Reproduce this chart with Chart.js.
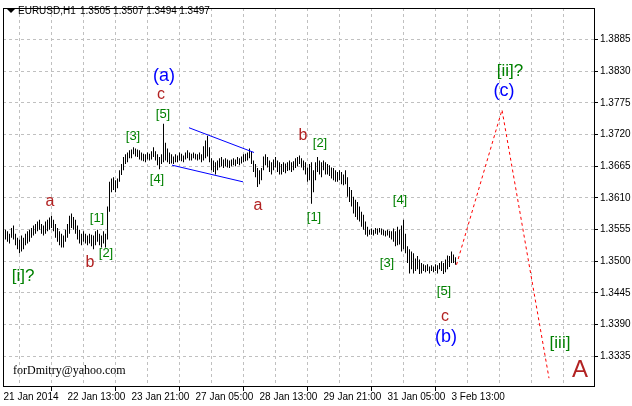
<!DOCTYPE html>
<html>
<head>
<meta charset="utf-8">
<script src="https://cdn.jsdelivr.net/npm/chart.js@4.4.0/dist/chart.umd.min.js"></script>
<style>
html, body { margin: 0; padding: 0; background: #fff; }
</style>
</head>
<body>
<canvas id="grafico" width="632" height="406"></canvas>
<script>
// EURUSD H1 - barras con marcado de ondas

// ---------------- datos ----------------
const timeLabels = ['21 Jan 2014', '22 Jan 13:00', '23 Jan 21:00', '27 Jan 05:00',
                    '28 Jan 13:00', '29 Jan 21:00', '31 Jan 05:00', '3 Feb 13:00'];

const priceTicks = [1.3335, 1.3390, 1.3445, 1.3500, 1.3555, 1.3610,
                    1.3665, 1.3720, 1.3775, 1.3830, 1.3885];

const barHigh = [
  1.3555, 1.3552, 1.3548, 1.3558, 1.3562, 1.3548, 1.3541, 1.3538, 1.3545, 1.3541,
  1.3548, 1.3552, 1.3555, 1.3558, 1.3562, 1.3565, 1.3569, 1.3572, 1.3565, 1.3562,
  1.3569, 1.3572, 1.3576, 1.3579, 1.3572, 1.3565, 1.3558, 1.3552, 1.3548, 1.3545,
  1.3555, 1.3565, 1.3579, 1.3583, 1.3577, 1.3572, 1.3562, 1.3555, 1.3548, 1.3552,
  1.3548, 1.3545, 1.3548, 1.3546, 1.3545, 1.3552, 1.3555, 1.3548, 1.3545, 1.3552,
  1.3548, 1.3595, 1.3638, 1.3644, 1.3646, 1.3641, 1.3644, 1.3658, 1.3669, 1.3681,
  1.3686, 1.3689, 1.3693, 1.3694, 1.3698, 1.3696, 1.3694, 1.3693, 1.3689, 1.3687,
  1.3686, 1.3689, 1.3687, 1.3691, 1.3698, 1.3691, 1.3686, 1.3681, 1.3686, 1.3739,
  1.3706, 1.3696, 1.3689, 1.3686, 1.3682, 1.3686, 1.3684, 1.3689, 1.3687, 1.3684,
  1.3689, 1.3693, 1.3689, 1.3687, 1.3689, 1.3687, 1.3686, 1.3689, 1.3686, 1.3700,
  1.3710, 1.3718, 1.3698, 1.3679, 1.3675, 1.3672, 1.3675, 1.3679, 1.3681, 1.3677,
  1.3679, 1.3677, 1.3675, 1.3677, 1.3679, 1.3677, 1.3681, 1.3679, 1.3682, 1.3686,
  1.3687, 1.3689, 1.3696, 1.3691, 1.3675, 1.3669, 1.3662, 1.3658, 1.3662, 1.3682,
  1.3686, 1.3681, 1.3675, 1.3672, 1.3677, 1.3681, 1.3675, 1.3672, 1.3669, 1.3672,
  1.3670, 1.3672, 1.3675, 1.3672, 1.3674, 1.3679, 1.3681, 1.3684, 1.3679, 1.3675,
  1.3672, 1.3663, 1.3669, 1.3672, 1.3658, 1.3672, 1.3681, 1.3675, 1.3672, 1.3675,
  1.3672, 1.3669, 1.3667, 1.3663, 1.3662, 1.3658, 1.3655, 1.3658, 1.3655, 1.3651,
  1.3658, 1.3646, 1.3629, 1.3624, 1.3612, 1.3607, 1.3603, 1.3595, 1.3586, 1.3581,
  1.3569, 1.3560, 1.3555, 1.3557, 1.3555, 1.3558, 1.3557, 1.3558, 1.3557, 1.3555,
  1.3553, 1.3555, 1.3553, 1.3552, 1.3557, 1.3552, 1.3560, 1.3555, 1.3562, 1.3572,
  1.3548, 1.3526, 1.3521, 1.3517, 1.3514, 1.3505, 1.3509, 1.3503, 1.3497, 1.3495,
  1.3493, 1.3495, 1.3491, 1.3493, 1.3491, 1.3495, 1.3493, 1.3497, 1.3500, 1.3497,
  1.3503, 1.3510, 1.3509, 1.3517, 1.3512, 1.3507
];

const barLow = [
  1.3538, 1.3534, 1.3531, 1.3541, 1.3538, 1.3528, 1.3521, 1.3514, 1.3517, 1.3521,
  1.3528, 1.3531, 1.3534, 1.3541, 1.3545, 1.3548, 1.3552, 1.3555, 1.3548, 1.3545,
  1.3548, 1.3552, 1.3555, 1.3558, 1.3552, 1.3541, 1.3534, 1.3528, 1.3524, 1.3524,
  1.3534, 1.3541, 1.3548, 1.3558, 1.3555, 1.3548, 1.3538, 1.3531, 1.3528, 1.3534,
  1.3531, 1.3528, 1.3531, 1.3526, 1.3521, 1.3528, 1.3534, 1.3528, 1.3524, 1.3531,
  1.3524, 1.3538, 1.3586, 1.3620, 1.3624, 1.3620, 1.3627, 1.3638, 1.3650, 1.3658,
  1.3669, 1.3672, 1.3679, 1.3679, 1.3686, 1.3682, 1.3681, 1.3677, 1.3675, 1.3674,
  1.3672, 1.3677, 1.3675, 1.3677, 1.3681, 1.3675, 1.3667, 1.3660, 1.3669, 1.3672,
  1.3675, 1.3672, 1.3669, 1.3670, 1.3669, 1.3672, 1.3672, 1.3675, 1.3674, 1.3672,
  1.3677, 1.3679, 1.3675, 1.3675, 1.3679, 1.3677, 1.3675, 1.3677, 1.3672, 1.3675,
  1.3679, 1.3682, 1.3672, 1.3658, 1.3655, 1.3651, 1.3658, 1.3663, 1.3665, 1.3662,
  1.3665, 1.3663, 1.3662, 1.3665, 1.3667, 1.3665, 1.3669, 1.3667, 1.3670, 1.3672,
  1.3674, 1.3675, 1.3679, 1.3669, 1.3655, 1.3646, 1.3629, 1.3634, 1.3641, 1.3658,
  1.3667, 1.3663, 1.3655, 1.3651, 1.3658, 1.3663, 1.3655, 1.3651, 1.3651, 1.3655,
  1.3653, 1.3657, 1.3658, 1.3655, 1.3658, 1.3662, 1.3665, 1.3669, 1.3663, 1.3658,
  1.3651, 1.3638, 1.3641, 1.3600, 1.3620, 1.3641, 1.3655, 1.3651, 1.3646, 1.3658,
  1.3651, 1.3651, 1.3648, 1.3644, 1.3641, 1.3638, 1.3638, 1.3641, 1.3634, 1.3632,
  1.3634, 1.3612, 1.3603, 1.3595, 1.3583, 1.3577, 1.3572, 1.3569, 1.3560, 1.3555,
  1.3546, 1.3543, 1.3546, 1.3546, 1.3545, 1.3548, 1.3546, 1.3550, 1.3546, 1.3545,
  1.3543, 1.3545, 1.3541, 1.3538, 1.3534, 1.3526, 1.3528, 1.3529, 1.3517, 1.3521,
  1.3514, 1.3497, 1.3479, 1.3486, 1.3479, 1.3483, 1.3486, 1.3478, 1.3479, 1.3483,
  1.3481, 1.3483, 1.3479, 1.3483, 1.3481, 1.3483, 1.3479, 1.3486, 1.3483, 1.3478,
  1.3481, 1.3486, 1.3490, 1.3497, 1.3497, 1.3494
];

// proyección (línea roja punteada) y canal (líneas azules)
const forecastBar   = [225.5, 248.25, 271.75];
const forecastPrice = [1.3494, 1.3763, 1.3297];
const upperBar   = [91.75, 124.25];
const upperPrice = [1.3732, 1.3689];
const lowerBar   = [83.25, 118.75];
const lowerPrice = [1.3667, 1.3638];

// cabecera: símbolo y últimos valores O H L C
const headerSymbol = 'EURUSD,H1';
const headerOHLC = ['1.3505', '1.3507', '1.3494', '1.3497'];

// etiquetas de ondas: texto, barra, precio
const ROJO = '#b22222', AZUL = '#0000ff', VERDE = '#008000';
const waveLabels = [
  ['[i]?', 8.75, 1.3474, VERDE, 17],
  ['a', 22.25, 1.3603, ROJO, 16],
  ['b', 42.25, 1.3497, ROJO, 16],
  ['[1]', 45.75, 1.3574, VERDE, 13],
  ['[2]', 50.25, 1.3514, VERDE, 13],
  ['[3]', 63.75, 1.3717, VERDE, 13],
  ['[4]', 75.75, 1.3643, VERDE, 13],
  ['[5]', 78.75, 1.3756, VERDE, 13],
  ['c', 77.75, 1.3790, ROJO, 16],
  ['(a)', 79.25, 1.3821, AZUL, 18],
  ['a', 126.25, 1.3596, ROJO, 16],
  ['b', 148.75, 1.3718, ROJO, 16],
  ['[2]', 157.25, 1.3705, VERDE, 13],
  ['[1]', 154.25, 1.3576, VERDE, 13],
  ['[4]', 197.25, 1.3605, VERDE, 13],
  ['[3]', 190.75, 1.3497, VERDE, 13],
  ['[5]', 219.25, 1.3448, VERDE, 13],
  ['c', 219.75, 1.3404, ROJO, 16],
  ['(b)', 220.25, 1.3368, AZUL, 18],
  ['[ii]?', 252.25, 1.3830, VERDE, 17],
  ['(c)', 249.25, 1.3796, AZUL, 18],
  ['[iii]', 277.25, 1.3357, VERDE, 17],
  ['A', 287.25, 1.3311, ROJO, 24]
];

// ---------------- plugins ----------------
const pluginEtiquetas = {
  id: 'etiquetas',
  afterDatasetsDraw(chart) {
    const { ctx, scales: { x, y } } = chart;
    ctx.save();
    ctx.textAlign = 'center';
    ctx.textBaseline = 'middle';
    waveLabels.forEach(([txt, b, p, color, size]) => {
      ctx.font = size + 'px "Liberation Sans", Arial, sans-serif';
      ctx.fillStyle = color;
      ctx.fillText(txt, x.getPixelForValue(b), y.getPixelForValue(p));
    });
    ctx.restore();
  }
};

const pluginMarco = {
  id: 'marco',
  beforeDraw(chart) {
    const ctx = chart.ctx;
    ctx.save();
    ctx.fillStyle = '#fff';
    ctx.fillRect(0, 0, chart.width, chart.height);
    ctx.restore();
  },
  afterDraw(chart) {
    const { ctx, chartArea: a } = chart;
    ctx.save();
    ctx.strokeStyle = '#000';
    ctx.lineWidth = 1;
    ctx.strokeRect(a.left + 0.5, a.top + 0.5, a.right - a.left, a.bottom - a.top);

    // cabecera
    ctx.fillStyle = '#000';
    ctx.beginPath();
    ctx.moveTo(7, 9); ctx.lineTo(15, 9); ctx.lineTo(11, 13); ctx.closePath();
    ctx.fill();
    ctx.font = '10px "Liberation Sans", Arial, sans-serif';
    ctx.textBaseline = 'alphabetic';
    ctx.textAlign = 'left';
    ctx.fillText(headerSymbol, 18, 14);
    let xx = 80;
    headerOHLC.forEach(t => {
      ctx.fillText(t, xx, 14);
      xx += ctx.measureText(t).width + 2.5;
    });

    // firma
    ctx.font = '12px "Liberation Serif", "Times New Roman", serif';
    ctx.fillText('forDmitry@yahoo.com', 13, 374);
    ctx.restore();
  }
};

// ---------------- gráfico ----------------
const ctx = document.getElementById('grafico').getContext('2d');

Chart.defaults.font.family = '"Liberation Sans", Arial, sans-serif';
Chart.defaults.font.size = 10;
Chart.defaults.color = '#000';

new Chart(ctx, {
  type: 'bar',
  data: {
    datasets: [
      {
        type: 'bar',
        data: barHigh.map((h, k) => ({ x: k, y: [barLow[k], h] })),
        backgroundColor: '#000',
        borderWidth: 0,
        barThickness: 1,
        inflateAmount: 0,
        grouped: false,
        order: 2
      },
      {
        type: 'line',
        data: forecastBar.map((b, k) => ({ x: b, y: forecastPrice[k] })),
        borderColor: '#ff0000',
        borderWidth: 1,
        borderDash: [3, 3],
        pointRadius: 0,
        fill: false,
        order: 1
      },
      {
        type: 'line',
        data: upperBar.map((b, k) => ({ x: b, y: upperPrice[k] })),
        borderColor: '#0000ff',
        borderWidth: 1,
        pointRadius: 0,
        fill: false,
        order: 1
      },
      {
        type: 'line',
        data: lowerBar.map((b, k) => ({ x: b, y: lowerPrice[k] })),
        borderColor: '#0000ff',
        borderWidth: 1,
        pointRadius: 0,
        fill: false,
        order: 1
      }
    ]
  },
  options: {
    responsive: false,
    animation: false,
    devicePixelRatio: 1,
    layout: { padding: { left: 3, top: 4, right: 0, bottom: 0 } },
    plugins: {
      legend: { display: false },
      tooltip: { enabled: false }
    },
    scales: {
      x: {
        type: 'linear',
        min: -1.25,
        max: 294.25,
        offset: false,
        afterBuildTicks: (scale) => {
          const t = [];
          for (let v = -1; v <= 294; v += 16) t.push({ value: v });
          scale.ticks = t;
        },
        afterFit: (scale) => { scale.height = 20; },
        border: { display: false, dash: [3, 3] },
        grid: {
          color: '#c0c0c0',
          tickLength: 5,
          tickColor: (c) => {
            const v = c.tick ? c.tick.value : 0;
            const k = (v + 1) / 32;
            return Number.isInteger(k) && k < timeLabels.length ? '#000' : 'rgba(0,0,0,0)';
          },
          tickBorderDash: []
        },
        ticks: {
          autoSkip: false,
          maxRotation: 0,
          align: 'start',
          padding: 0,
          callback: (v) => {
            const k = (v + 1) / 32;
            return Number.isInteger(k) && k < timeLabels.length ? timeLabels[k] : '';
          }
        }
      },
      y: {
        type: 'linear',
        position: 'right',
        min: 1.32834,
        max: 1.39400,
        afterBuildTicks: (scale) => {
          scale.ticks = priceTicks.map(v => ({ value: v }));
        },
        afterFit: (scale) => { scale.width = 38; },
        border: { display: false, dash: [3, 3] },
        grid: {
          color: '#c0c0c0',
          tickLength: 4,
          tickColor: '#000',
          tickBorderDash: []
        },
        ticks: {
          padding: 2,
          callback: (v) => v.toFixed(4)
        }
      }
    }
  },
  plugins: [pluginMarco, pluginEtiquetas]
});
</script>
</body>
</html>
